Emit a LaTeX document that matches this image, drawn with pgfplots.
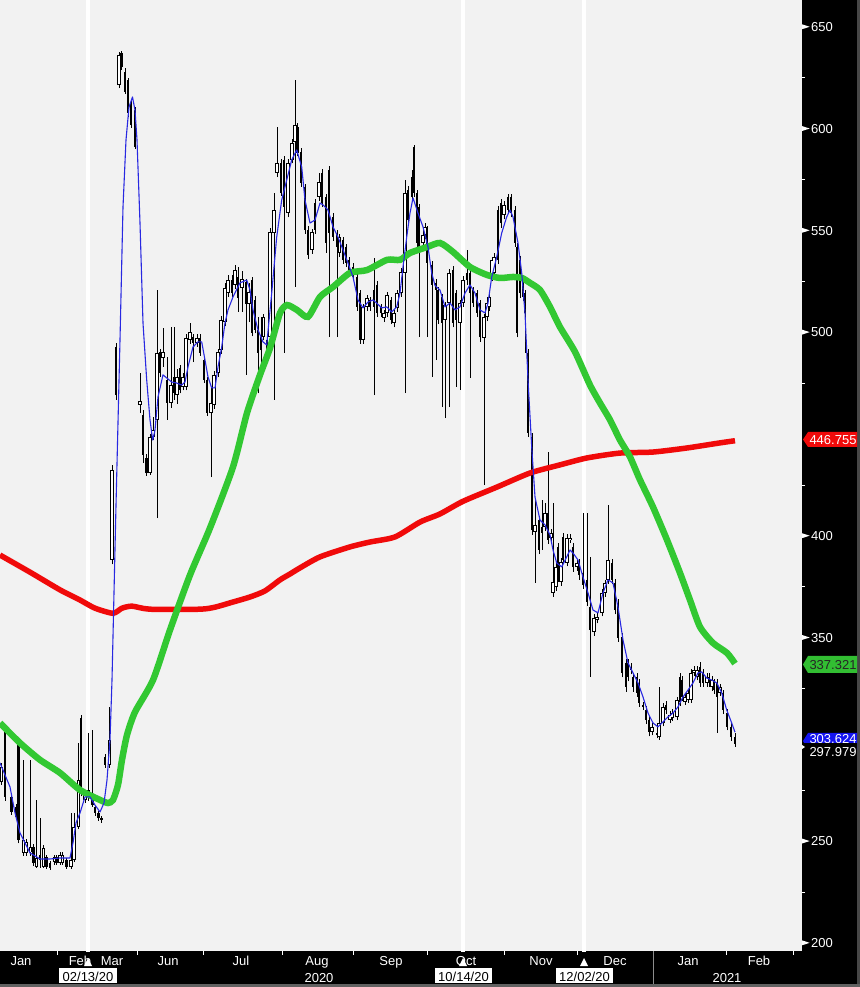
\documentclass[border=0pt]{standalone}
\usepackage{pgfplots}
\pgfplotsset{compat=1.18}
\usepackage{pgfplotstable}
\usepackage{fontspec}
\setmainfont{Liberation Sans}
\pgfkeys{/pgf/number format/assume math mode=true}
\definecolor{bggray}{RGB}{242,242,242}
\definecolor{lred}{RGB}{240,10,10}
\definecolor{lgreen}{RGB}{50,200,50}
\definecolor{lblue}{RGB}{40,40,225}
\definecolor{boxgreen}{RGB}{50,190,50}
\definecolor{boxblue}{RGB}{20,20,240}
\newcommand{\lbl}{\fontsize{13bp}{15bp}\selectfont}

% hollow (up) candles: x lo hi body-bottom body-top
\pgfplotstableread{
x lo hi bot top
1.7 277.7 288.5 279.1 286.5
23.3 243.0 290.0 244.3 250.6
26 243.0 251.0 244.3 249.6
30.7 243.0 290.0 244.5 247.0
36.7 237.0 270.3 237.4 241.8
43.3 237.0 248.0 237.4 246.7
54.3 238.5 243.5 239.9 242.3
60 238.5 244.5 239.4 243.3
62.7 238.5 244.5 239.4 243.3
71 236.5 264.0 237.4 240.8
74 240.0 263.9 240.8 257.0
78.3 256.0 298.3 257.0 280.1
85 269.0 275.0 270.3 273.7
88.3 270.0 303.2 271.8 275.2
109.3 286.0 316.0 287.5 299.8
112 386.0 435.0 388.2 432.4
119 620.0 637.5 621.5 636.2
140 460.4 480.0 464.3 466.3
150 430.0 450.0 430.9 448.6
153 447.0 458.4 448.6 452.0
157 408.8 520.8 457.0 489.9
163 483.0 502.1 487.4 490.4
171 463.0 502.6 465.3 474.1
177 465.0 482.0 469.2 478.1
183 471.5 480.0 473.2 478.1
186 471.5 499.0 473.2 497.2
190 494.5 504.6 496.3 500.2
197 493.0 499.0 494.8 497.2
211 428.9 473.2 460.4 465.3
214 462.5 481.0 464.3 479.0
218 478.0 492.0 480.0 490.4
221 489.5 508.0 491.3 506.1
225 503.0 524.0 505.1 521.8
228 517.5 528.0 519.3 525.7
235 521.5 533.0 523.3 530.6
242 510.0 530.0 522.0 526.0
249 505.0 524.0 514.0 520.0
263.5 496.0 509.0 497.7 507.5
270 493.8 551.3 497.7 549.3
274 466.8 568.5 548.8 560.1
277 576.3 600.9 578.3 583.2
288 556.5 585.0 558.6 583.2
292 583.0 595.0 584.7 593.0
295 522.3 624.0 593.5 601.9
312 538.5 551.0 540.5 549.3
319 564.5 578.3 566.5 573.9
339.5 537.0 548.5 539.0 546.8
363 494.5 514.0 496.3 512.5
367 510.5 518.5 512.5 516.9
384 505.0 511.0 507.0 509.5
387 507.5 520.0 509.5 518.4
394 502.5 511.0 504.6 509.5
397 510.0 521.0 511.9 519.3
401 517.5 531.5 519.3 529.7
405 470.2 574.8 529.2 568.5
423 541.5 550.0 543.9 547.8
425 546.0 553.5 547.8 551.8
445 457.9 515.0 506.1 513.4
449 463.3 531.0 514.4 529.2
460 471.7 516.0 504.6 514.4
463 512.5 527.5 514.4 525.7
484 425.0 509.0 497.2 507.5
487 505.5 516.0 507.5 514.4
489 510.5 519.0 512.5 517.4
492 525.0 537.0 527.2 535.5
494 527.0 539.0 529.2 537.0
504 555.5 564.5 557.6 562.6
535 376.9 417.7 402.0 405.4
545 402.5 416.2 404.4 411.3
551 397.0 403.5 399.0 401.5
553 370.0 416.2 372.0 377.4
556 373.0 386.5 374.9 384.8
561 375.5 389.0 377.4 387.2
567 385.0 401.0 386.7 399.0
570 396.5 401.0 398.0 399.0
577 383.0 388.5 384.8 386.7
594 351.0 361.5 352.8 359.7
597 357.0 362.0 358.7 360.2
602 360.5 374.0 362.2 372.0
605 370.0 378.5 372.0 376.9
608 376.5 415.2 378.4 388.2
652 302.0 308.0 303.7 306.2
659 299.8 325.8 301.2 308.1
663 306.5 318.0 308.1 316.0
670 308.0 314.0 309.6 312.0
672 309.0 315.0 310.6 313.0
677 309.5 321.0 311.1 319.4
685 317.0 322.5 318.4 320.9
688 318.0 324.5 319.4 322.9
691 318.0 334.5 319.4 332.7
694 331.0 336.0 332.7 334.2
697 329.0 336.0 330.7 334.2
707 326.0 332.5 327.8 330.7
712 324.0 331.0 325.8 329.2
720 321.5 327.5 322.9 325.8
}\bull

% filled (down) candles: x lo hi body-bottom body-top
\pgfplotstableread{
x lo hi bot top
5 270.0 307.5 271.8 306.2
11.7 263.0 273.0 264.4 271.8
16 260.5 268.5 262.0 266.9
18.3 249.0 299.5 250.6 298.3
33.3 238.0 248.5 239.4 247.2
40 237.0 261.5 240.8 243.3
46.7 236.5 243.5 237.4 242.3
50 236.0 240.5 236.8 239.4
56.7 238.5 243.5 239.4 242.3
66.7 236.5 242.0 237.4 240.8
81 272.0 312.0 273.7 310.6
92.7 267.0 304.7 267.8 272.7
95 262.5 268.0 263.9 266.9
98.3 260.0 265.0 261.5 263.9
101.7 259.0 262.5 260.5 261.5
105 286.0 293.0 287.5 291.4
116 467.0 495.0 469.2 492.8
121.7 629.0 638.0 630.3 637.2
125 617.0 630.0 618.1 627.9
128 606.0 625.0 607.8 624.0
131 600.5 614.0 601.9 612.7
135 590.0 610.5 591.1 609.2
143 435.8 461.9 439.8 459.4
146.7 429.5 440.0 430.9 438.3
160 478.0 492.0 480.0 490.4
167 457.0 487.9 465.3 476.6
174 466.8 502.6 470.2 478.1
180 470.0 484.0 471.7 482.5
193 485.4 499.0 494.8 497.7
200 488.5 499.0 489.9 497.2
204 475.0 488.0 476.6 486.4
207 459.0 478.0 460.4 476.6
232 517.5 528.0 519.3 525.7
238 510.0 532.0 517.0 527.0
246 479.1 526.0 514.0 524.5
252 498.0 527.0 499.7 525.7
255 499.5 518.0 501.2 515.9
258 470.0 507.5 489.9 501.2
261 483.0 507.5 491.3 497.7
267 489.5 498.0 491.3 496.3
281 567.0 585.0 568.5 583.2
284 489.9 586.5 561.6 584.7
297.5 586.5 603.0 588.1 600.9
301 571.5 590.5 573.4 588.6
305 548.5 573.0 550.3 571.4
308 536.0 552.0 538.0 550.3
315 548.5 565.5 550.3 563.5
322 561.5 580.0 563.5 578.3
326 539.0 568.0 543.9 566.5
329 497.7 581.7 548.8 579.8
333 545.0 558.5 546.8 556.7
337 497.7 550.5 541.9 548.8
343 533.5 547.0 535.5 545.4
346 532.0 543.5 534.1 541.9
349 527.5 537.0 529.2 535.5
353 525.5 534.0 527.2 532.1
357 510.5 529.0 512.5 527.2
360 494.5 521.0 496.3 519.3
370 510.5 517.5 512.5 515.9
374 469.2 536.5 512.5 520.8
377 507.5 525.0 509.5 523.3
381 507.5 514.0 509.5 512.5
391 504.0 517.5 506.1 515.9
408 553.0 572.0 555.2 570.0
412 564.5 579.8 566.5 576.3
414 566.5 592.0 568.5 591.1
417 542.0 570.0 544.1 568.5
419 497.7 563.0 541.9 561.6
427 497.7 552.0 534.1 550.3
432 478.1 535.0 523.3 533.1
436 486.4 526.0 520.8 524.3
438 504.0 522.5 506.1 520.8
442 463.3 519.0 504.6 517.4
453 502.5 532.5 504.6 530.6
456 473.2 521.0 506.1 519.3
467 523.5 540.5 525.7 529.2
470 477.6 531.0 519.3 529.2
473 512.5 522.5 514.4 520.8
477 507.5 521.0 509.5 519.3
480 495.5 516.0 497.7 514.4
498 533.5 562.0 535.5 560.1
501 551.5 565.5 553.7 563.5
508 558.0 568.0 560.1 566.5
511 556.5 568.0 558.6 566.5
515 542.0 562.0 543.9 560.1
517 497.5 544.0 499.7 541.9
520 517.0 537.5 519.3 535.5
523 515.5 527.5 517.4 525.7
525 490.0 521.0 509.5 519.3
528 448.5 492.0 450.6 489.9
532 400.5 450.5 402.9 448.6
539 391.0 410.0 393.1 407.8
542 393.1 417.7 401.5 404.4
548 396.0 441.2 398.0 411.3
558 377.5 396.5 379.8 394.6
563 386.0 401.5 388.2 399.5
573 382.5 396.5 384.8 394.6
579 378.5 388.5 380.8 386.7
583 374.0 411.3 375.9 381.8
587 365.5 411.3 367.6 378.4
590 330.7 389.7 353.8 365.1
612 376.5 388.5 378.4 386.7
615 361.5 379.0 363.6 376.9
618 348.0 369.0 349.9 367.1
622 330.5 352.5 332.7 350.4
626 323.5 339.5 325.8 337.6
628 328.5 339.5 330.7 337.6
631 332.0 337.5 334.2 335.6
633 323.5 332.5 325.8 330.7
637 321.0 332.5 322.9 330.7
639 316.0 329.5 318.0 327.8
643 314.5 318.5 316.0 317.0
646 307.5 316.5 309.6 314.5
649 301.5 311.5 303.7 309.6
657 300.5 304.5 302.2 303.2
666 312.5 319.0 314.5 317.0
680 316.5 332.5 318.4 330.7
682 319.0 331.0 320.9 329.2
700 326.0 338.1 327.8 335.6
703 326.0 334.5 327.8 332.7
709 326.0 332.5 327.8 330.7
714 322.5 329.5 324.3 327.8
717 303.2 329.5 320.9 327.8
723 312.5 324.5 314.5 322.9
727 304.5 315.0 306.2 313.0
731 299.5 308.0 301.2 306.2
735 296.5 303.0 298.0 301.2
}\bear

\pgfplotsset{candle/.style={draw=none, mark=none, forget plot,
  error bars/.cd, y dir=plus, y explicit, error mark=none,
  error bar style={draw=#1}}}

\begin{document}
\begin{tikzpicture}
\fill[black] (0,-36bp) rectangle (860bp,951bp);
\begin{axis}[
  at={(0,0)}, anchor=south west,
  scale only axis, width=802bp, height=951bp,
  xmin=0, xmax=802, ymin=196.1, ymax=663.26,
  axis background/.style={fill=bggray},
  separate axis lines, axis x line*=bottom, axis y line*=right,
  axis line style={draw=none},
  tick align=outside,
  major tick length=0pt, minor tick length=3bp,
  ytick={200,250,350,400,500,550,600,650}, minor ytick={225,275,...,625},
  minor y tick style={white, line width=0.8bp},
  yticklabel={\tikz[baseline=0pt]\fill[white] (0,2.3bp)--(0,7.1bp)--(7.5bp,4.7bp)--cycle;\hspace{1.5bp}\pgfmathprintnumber{\tick}},
  yticklabel style={anchor=west, inner sep=0pt, text=white, font=\lbl},
  xtick={21,80,112,168,241,317,391,466,541,615,688,759},
  xticklabels={Jan,Feb,Mar,Jun,Jul,Aug,Sep,Oct,Nov,Dec,Jan,Feb},
  xticklabel style={anchor=base, inner sep=0pt, yshift=-15bp, text=white, font=\lbl},
  extra x ticks={57,137,203,282,353,427,504,577,726,793},
  extra x tick labels={},
  extra x tick style={major tick length=3.5bp, xtick style={white, line width=1bp}},
]
% date marker lines
\addplot[white, line width=4.5bp, forget plot] coordinates {(88,190) (88,670)};
\addplot[white, line width=4.5bp, forget plot] coordinates {(463,190) (463,670)};
\addplot[white, line width=4.5bp, forget plot] coordinates {(584,190) (584,670)};
% wicks
\addplot[candle=black, error bar style={line width=0.9bp}]
  table[x=x, y=lo, y error plus expr=\thisrow{hi}-\thisrow{lo}] {\bull};
\addplot[candle=black, error bar style={line width=0.9bp}]
  table[x=x, y=lo, y error plus expr=\thisrow{hi}-\thisrow{lo}] {\bear};
% bodies
\addplot[candle=black, error bar style={line width=2.8bp}]
  table[x=x, y=bot, y error plus expr=\thisrow{top}-\thisrow{bot}] {\bear};
\addplot[candle=black, error bar style={line width=3.2bp}]
  table[x=x, y=bot, y error plus expr=\thisrow{top}-\thisrow{bot}] {\bull};
\addplot[candle=white, error bar style={line width=1.2bp}]
  table[x=x, y expr=\thisrow{bot}+0.45, y error plus expr={max(\thisrow{top}-\thisrow{bot}-0.9,0)}] {\bull};
% 200-day (red)
\addplot[lred, line width=5.5bp, smooth, tension=0.4] coordinates {
(0,390.6)(30,382.2)(60,373.5)(80,368.5)(95,364.5)(113,362.0)(122,364.5)(132,365.5)(150,364.0)
(200,364.0)(215,365.0)(230,367.1)(250,370.0)(265,373.0)(280,378.4)(290,381.3)(300,384.3)(320,389.7)
(350,394.6)(370,397.0)(395,399.5)(420,406.8)(440,410.8)(463,417.0)(497,424.0)(530,430.9)(560,434.9)
(587,438.3)(620,440.7)(653,441.2)(687,443.2)(720,445.7)(735,446.76)};
% 50-day (green)
\addplot[lgreen, line width=6.5bp, smooth, tension=0.4] coordinates {
(0,308.1)(20,298.3)(40,290.0)(60,283.6)(80,275.2)(100,270.3)(108,268.8)(113,270.3)(118,277.7)
(122,290.0)(127,302.2)(135,313.5)(153,329.2)(170,353.8)(190,380.8)(210,403.9)(233,433.9)(247,460.4)
(260,479.1)(270,492.3)(280,509.5)(287,513.4)(297,511.0)(308,507.6)(320,517.4)(333,522.3)(350,529.2)
(367,530.6)(387,535.6)(400,535.6)(410,539.0)(427,541.9)(440,543.9)(453,539.5)(470,532.1)(487,528.2)
(500,526.7)(513,527.2)(522,526.7)(530,524.3)(540,520.8)(550,512.5)(560,502.6)(575,490.4)(590,474.1)
(600,465.3)(610,457.0)(620,447.1)(630,438.8)(640,427.5)(653,414.2)(667,398.0)(680,381.8)(690,368.5)
(700,355.3)(713,347.4)(727,342.5)(735,337.3)};
% 5-day (blue)
\addplot[lblue, line width=1.1bp, line join=round] coordinates {
(0,288.5)(10,276.7)(15,263.9)(20,254.1)(30,244.3)(40,241.3)(50,241.3)(60,241.8)(70,241.8)(73,249.2)
(76,259.0)(80,263.9)(85,271.8)(90,271.8)(95,267.8)(100,264.4)(104,268.8)(107,280.1)(110,299.8)
(112,329.2)(116,415.0)(120,496.3)(123,561.6)(126,594.5)(129,610.7)(132.5,615.6)(135,609.2)(137,594.5)
(140,553.7)(143,504.6)(146.7,476.6)(150,457.0)(152.7,447.1)(155,452.0)(158,468.3)(163,479.1)
(166.7,477.6)(171.7,475.6)(176.7,475.1)(181.7,474.1)(185,475.6)(188,483.0)(193,492.8)(198,495.3)
(201.7,495.3)(205,486.4)(208,478.1)(211.7,472.7)(215,472.7)(218,483.0)(221.7,492.8)(225,504.6)
(228,511.0)(233,517.4)(240,524.3)(246.7,525.7)(250,520.8)(253,511.0)(258,501.2)(263,495.3)
(266.7,493.8)(271.7,519.3)(276.7,546.8)(281.7,565.0)(286.7,574.8)(291.7,584.7)(296.7,589.6)
(301.7,581.2)(305,565.0)(310,553.7)(315,555.2)(320,563.5)(323,562.6)(328,560.1)(333,551.8)
(338,546.8)(343,540.5)(348,534.1)(353,527.2)(358,515.9)(363,512.0)(368,514.9)(373,515.9)
(376.7,514.4)(381.7,512.0)(386.7,512.5)(391.7,510.0)(396.7,512.5)(400,519.3)(403,532.1)
(406.7,546.8)(410,558.6)(413,566.0)(418,558.6)(423,551.8)(428,541.9)(431.7,529.2)(435,523.0)
(440,520.8)(445,512.5)(450,514.4)(455,511.0)(460,512.5)(465,519.3)(470,523.3)(475,519.3)
(480,511.0)(485,509.5)(488,514.4)(491.7,527.2)(496.7,537.0)(501.7,548.8)(506.7,556.7)(510,560.1)
(513,556.7)(518,543.9)(521.7,529.2)(525,509.5)(528,476.6)(531.7,443.7)(535,419.1)(540,407.8)
(545,405.4)(550,400.5)(553,393.1)(556.7,386.7)(561.7,384.8)(566.7,389.7)(570,393.1)(573,391.6)
(578,388.2)(583,379.8)(588,372.0)(593,363.6)(598,362.2)(603,372.0)(608,378.4)(613,376.9)
(618,365.1)(623,348.9)(628,337.6)(633,332.7)(638,327.8)(643,320.9)(648,313.0)(653,308.1)
(658,306.2)(663,308.6)(668,311.1)(673,313.0)(678,316.0)(683,320.9)(688,324.3)(693,327.8)
(698,332.7)(701.7,333.2)(706.7,330.2)(711.7,329.2)(716.7,327.8)(721.7,322.9)(726.7,314.5)
(731.7,308.1)(735,303.6)};
\end{axis}
% frame strips
\fill[black!72] (857bp,-36bp) rectangle (860bp,951bp);
\fill[black!62] (0,-36bp) rectangle (860bp,-33bp);
\draw[black!45, line width=1bp] (653bp,0) -- (653bp,-33bp);
% year labels
\node[anchor=base, text=white, font=\lbl, inner sep=0pt] at (319bp,-31bp) {2020};
\node[anchor=base, text=white, font=\lbl, inner sep=0pt] at (727bp,-31bp) {2021};
% date boxes and markers
\fill[white] (59bp,-32bp) rectangle (117bp,-17bp);
\node[anchor=base, text=black, font=\lbl, inner sep=0pt] at (88bp,-30bp) {02/13/20};
\fill[white] (435bp,-32bp) rectangle (492bp,-17bp);
\node[anchor=base, text=black, font=\lbl, inner sep=0pt] at (463.5bp,-30bp) {10/14/20};
\fill[white] (556bp,-32bp) rectangle (613bp,-17bp);
\node[anchor=base, text=black, font=\lbl, inner sep=0pt] at (584.5bp,-30bp) {12/02/20};
\fill[white] (84bp,-15bp) -- (92bp,-15bp) -- (88bp,-7bp) -- cycle;
\fill[white] (459bp,-15bp) -- (467bp,-15bp) -- (463bp,-7bp) -- cycle;
\fill[white] (580bp,-15bp) -- (588bp,-15bp) -- (584bp,-7bp) -- cycle;
% last-value labels
\fill[lred] (803bp,511.5bp) -- (808bp,519bp) -- (857bp,519bp) -- (857bp,504bp) -- (808bp,504bp) -- cycle;
\node[anchor=base, text=white, font=\lbl, inner sep=0pt] at (833bp,506.8bp) {446.755};
\fill[boxgreen] (803bp,286.5bp) -- (808bp,295bp) -- (857bp,295bp) -- (857bp,278bp) -- (808bp,278bp) -- cycle;
\node[anchor=base, text=black!85, font=\lbl, inner sep=0pt] at (833bp,281.8bp) {337.321};
\fill[boxblue] (803bp,210bp) -- (808bp,218bp) -- (857bp,218bp) -- (857bp,201bp) -- (808bp,201bp) -- cycle;
\node[anchor=base, text=white, font=\lbl, inner sep=0pt] at (833bp,207.6bp) {303.624};
\fill[black] (804bp,190bp) rectangle (857bp,208bp);
\fill[white] (802bp,202bp) -- (802bp,206bp) -- (805bp,204bp) -- cycle;
\node[anchor=base, text=white, font=\lbl, inner sep=0pt] at (833bp,194bp) {297.979};
\pgfresetboundingbox
\useasboundingbox (0,-36bp) rectangle (860bp,951bp);
\end{tikzpicture}
\end{document}
